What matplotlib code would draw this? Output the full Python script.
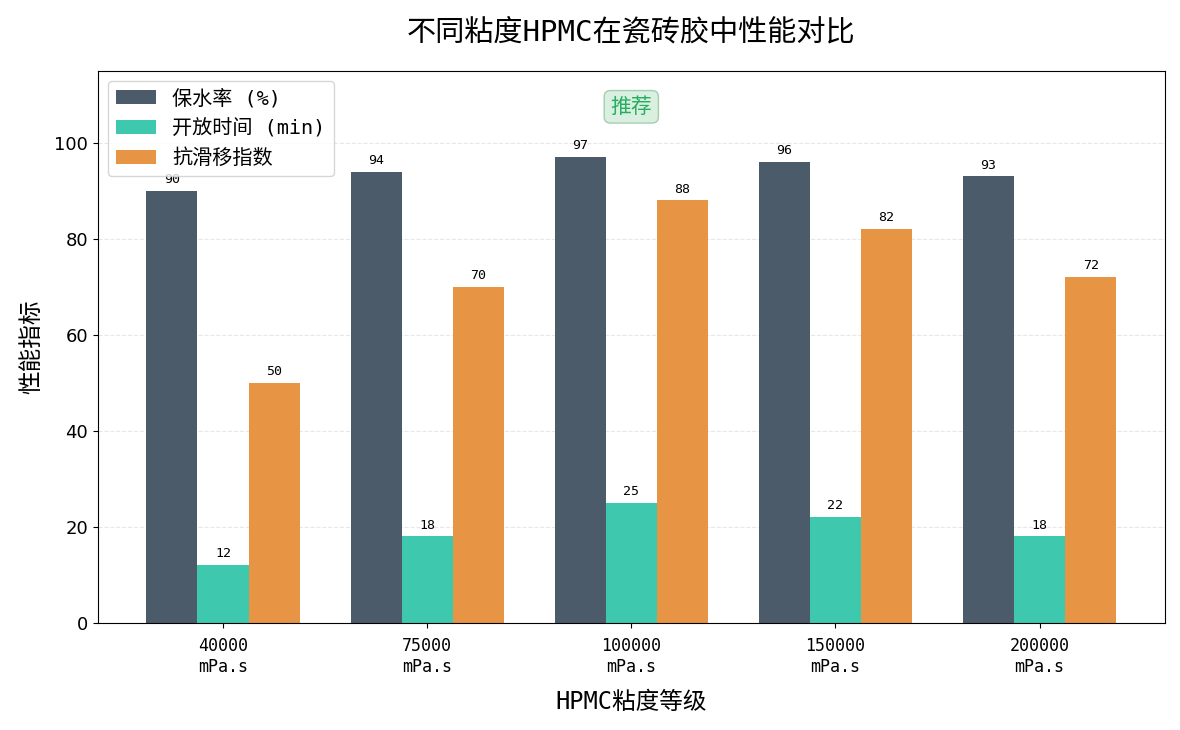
import numpy as np
import matplotlib
matplotlib.use("Agg")
import matplotlib.pyplot as plt

# latin glyphs monospaced, CJK from Noto
plt.rcParams['font.family'] = ['DejaVu Sans Mono', 'Noto Sans CJK SC']

grades = ['40000\nmPa.s', '75000\nmPa.s', '100000\nmPa.s', '150000\nmPa.s', '200000\nmPa.s']
water_retention = [90, 94, 97, 96, 93]
open_time = [12, 18, 25, 22, 18]
anti_slip = [50, 70, 88, 82, 72]
series_names = ['保水率 (%)', '开放时间 (min)', '抗滑移指数']
colors = ['#4b5b6a', '#3ec8ae', '#e89445']
recommended = 2

x = np.arange(len(grades))
w = 0.25

fig, ax = plt.subplots(figsize=(11.8, 7.3), dpi=100)

for i, (vals, name, c) in enumerate(zip([water_retention, open_time, anti_slip], series_names, colors)):
    bars = ax.bar(x + (i - 1) * w, vals, w, label=name, color=c)
    for b, v in zip(bars, vals):
        ax.text(b.get_x() + b.get_width() / 2, v + 1, str(v),
                ha='center', va='bottom', fontsize=9.5)

ax.set_ylim(0, 115)
ax.set_xticks(x)
ax.set_xticklabels(grades, fontsize=12)
ax.tick_params(axis='x', pad=7)
for lab in ax.get_yticklabels():
    lab.set_family('DejaVu Sans')
    lab.set_fontsize(13)
ax.set_xlabel('HPMC粘度等级', fontsize=17, labelpad=10)
ax.set_ylabel('性能指标', fontsize=17, labelpad=8)
ax.set_title('不同粘度HPMC在瓷砖胶中性能对比', fontsize=21, pad=22)
ax.grid(axis='y', linestyle='--', alpha=0.3)
ax.set_axisbelow(True)

ax.text(recommended, 107.5, '推荐', ha='center', va='center', fontsize=15, color='#27ae60',
        bbox=dict(boxstyle='round,pad=0.3', facecolor='#d5eedd', edgecolor='#a0c8ac', alpha=0.9))

ax.legend(loc='upper left', fontsize=14.5)

plt.subplots_adjust(left=0.083, right=0.987, top=0.903, bottom=0.147)
plt.savefig('out.png', dpi=100)
